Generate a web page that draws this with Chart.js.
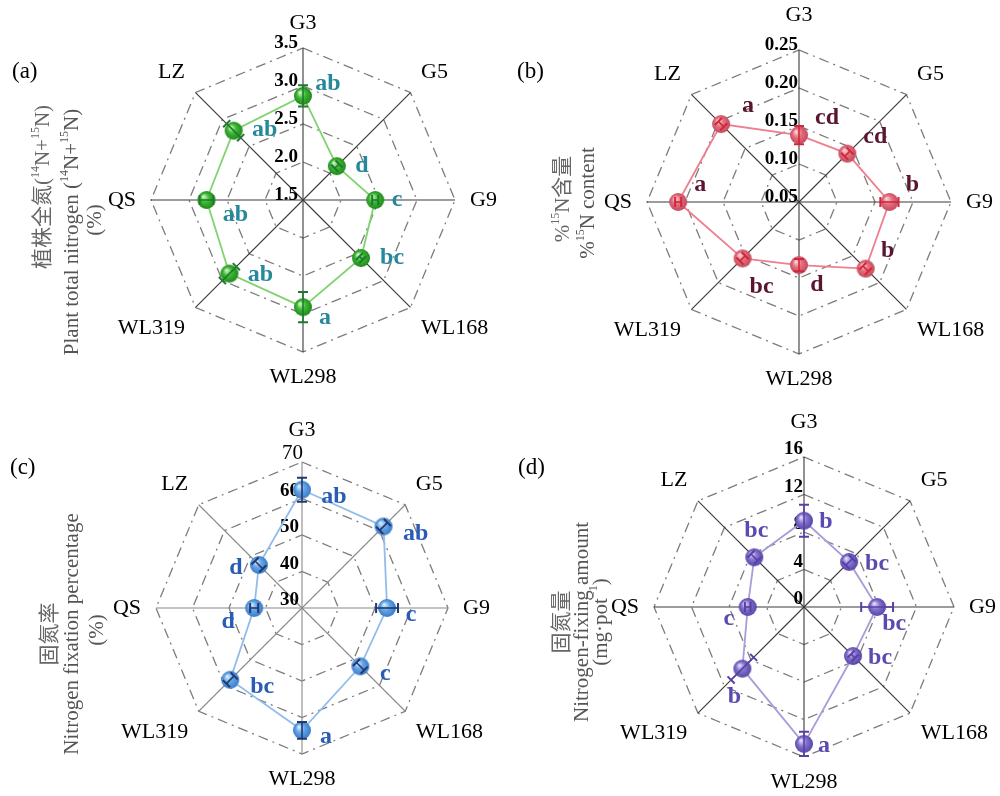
<!DOCTYPE html>
<html>
<head>
<meta charset="utf-8">
<script src="https://cdn.jsdelivr.net/npm/chart.js@4.4.1/dist/chart.umd.min.js"></script>
<style>
  html, body { margin: 0; padding: 0; background: #fff; width: 1000px; height: 796px; overflow: hidden; position: relative; }
  .panel { position: absolute; width: 500px; height: 398px; }
  .panel canvas { display: block; }
</style>
</head>
<body>
<div class="panel" style="left:0;top:0"><canvas id="chartA" width="500" height="398"></canvas></div>
<div class="panel" style="left:500px;top:0"><canvas id="chartB" width="500" height="398"></canvas></div>
<div class="panel" style="left:0;top:398px"><canvas id="chartC" width="500" height="398"></canvas></div>
<div class="panel" style="left:500px;top:398px"><canvas id="chartD" width="500" height="398"></canvas></div>
<script>
// Alfalfa genotypes, clockwise from the top
const genotypes = ['G3', 'G5', 'G9', 'WL168', 'WL298', 'WL319', 'QS', 'LZ'];

// (a) plant total nitrogen (14N+15N), %
const totalN      = [2.87, 2.13, 2.45, 2.58, 2.91, 2.87, 2.77, 2.79];
const totalNErr   = [0.14, 0.04, 0.04, 0.03, 0.20, 0.13, 0.09, 0.13];
const totalNSig   = ['ab', 'd', 'c', 'bc', 'a', 'ab', 'ab', 'ab'];
const totalNTicks = ['1.5', '2.0', '2.5', '3.0', '3.5'];

// (b) 15N content, %
const n15Content  = [0.138, 0.140, 0.169, 0.174, 0.133, 0.155, 0.209, 0.195];
const n15Err      = [0.012, 0.005, 0.012, 0.005, 0.008, 0.005, 0.004, 0.005];
const n15Sig      = ['cd', 'cd', 'b', 'b', 'd', 'bc', 'a', 'a'];
const n15Ticks    = ['0.05', '0.10', '0.15', '0.20', '0.25'];

// (c) nitrogen fixation percentage, %
const fixPct      = [62.4, 61.6, 53.3, 52.6, 63.5, 57.8, 43.1, 46.7];
const fixPctErr   = [3.3, 1.5, 3.0, 1.5, 2.3, 1.5, 1.1, 1.5];
const fixPctSig   = ['ab', 'ab', 'c', 'c', 'a', 'bc', 'd', 'd'];
const fixPctTicks = ['30', '40', '50', '60', '70'];

// (d) nitrogen-fixing amount, mg per pot
const fixAmt      = [9.2, 6.8, 7.8, 7.4, 14.6, 9.3, 6.0, 7.5];
const fixAmtErr   = [1.7, 0.5, 1.7, 0.3, 1.3, 1.7, 0.3, 0.5];
const fixAmtSig   = ['b', 'bc', 'bc', 'bc', 'a', 'b', 'c', 'bc'];
const fixAmtTicks = ['0', '4', '8', '12', '16'];

const SERIF = "'Liberation Serif', 'Times New Roman', 'Noto Sans CJK SC', serif";

// Shaded sphere used as point marker
function makeBall(base, light, dark, r) {
  const c = document.createElement('canvas');
  const s = Math.ceil(r * 2 + 2);
  c.width = c.height = s;
  const g = c.getContext('2d');
  const m = s / 2;
  const grd = g.createRadialGradient(m - r * 0.35, m - r * 0.4, r * 0.05, m, m, r);
  grd.addColorStop(0, light);
  grd.addColorStop(0.45, base);
  grd.addColorStop(1, dark);
  g.fillStyle = grd;
  g.beginPath();
  g.arc(m, m, r, 0, Math.PI * 2);
  g.fill();
  return c;
}

// Text with superscript runs, centred on the origin of the current transform
function drawRich(ctx, segs, size, color) {
  const big = size + 'px ' + SERIF;
  const small = Math.round(size * 0.58) + 'px ' + SERIF;
  let total = 0;
  segs.forEach(s => { ctx.font = s.sup ? small : big; total += ctx.measureText(s.t).width; });
  let x = -total / 2;
  ctx.fillStyle = color;
  ctx.textBaseline = 'middle';
  ctx.textAlign = 'left';
  segs.forEach(s => {
    ctx.font = s.sup ? small : big;
    ctx.fillText(s.t, x, s.sup ? -size * 0.33 : 0);
    x += ctx.measureText(s.t).width;
  });
}

function decorations(cfg) {
  return {
    id: 'decor' + cfg.tag,
    beforeDatasetsDraw(chart) {
      const s = chart.scales.r, ctx = chart.ctx;
      ctx.save();
      ctx.fillStyle = '#000';
      ctx.textAlign = 'right';
      ctx.textBaseline = 'alphabetic';
      cfg.ticks.forEach((t, i) => {
        const d = s.getDistanceFromCenterForValue(Number(t));
        const isTopPlain = cfg.plainTop && i === cfg.ticks.length - 1;
        ctx.font = isTopPlain ? '21px ' + SERIF : 'bold 19px ' + SERIF;
        ctx.fillText(t, s.xCenter + cfg.tickDx + (isTopPlain ? 4 : 0), s.yCenter - d + cfg.tickDy);
      });
      ctx.restore();
    },
    afterDatasetsDraw(chart) {
      const s = chart.scales.r, ctx = chart.ctx;
      const meta = chart.getDatasetMeta(0);
      ctx.save();
      // error bars along each spoke
      ctx.strokeStyle = cfg.errColor;
      cfg.values.forEach((v, i) => {
        const e = cfg.err[i];
        const p1 = s.getPointPositionForValue(i, v - e);
        const p2 = s.getPointPositionForValue(i, v + e);
        const a = s.getIndexAngle(i) - Math.PI / 2;
        const px = -Math.sin(a) * 5, py = Math.cos(a) * 5;
        ctx.lineWidth = 1.6;
        ctx.beginPath();
        ctx.moveTo(p1.x, p1.y); ctx.lineTo(p2.x, p2.y);
        ctx.stroke();
        ctx.lineWidth = 2;
        ctx.beginPath();
        ctx.moveTo(p1.x - px, p1.y - py); ctx.lineTo(p1.x + px, p1.y + py);
        ctx.moveTo(p2.x - px, p2.y - py); ctx.lineTo(p2.x + px, p2.y + py);
        ctx.stroke();
      });
      // significance letters
      ctx.font = 'bold 24px ' + SERIF;
      ctx.fillStyle = cfg.sigColor;
      ctx.textAlign = 'center';
      ctx.textBaseline = 'middle';
      cfg.sig.forEach((t, i) => {
        const el = meta.data[i];
        const o = cfg.sigOffsets[i];
        ctx.fillText(t, el.x + o[0], el.y + o[1]);
      });
      ctx.restore();
    },
    afterDraw(chart) {
      const s = chart.scales.r, ctx = chart.ctx;
      ctx.save();
      // spoke names
      ctx.font = '22px ' + SERIF;
      ctx.fillStyle = '#000';
      ctx.textBaseline = 'middle';
      genotypes.forEach((name, i) => {
        const gap = i === 0 ? cfg.topGap : 15;
        const p = s.getPointPosition(i, s.drawingArea + gap);
        const ang = s.getIndexAngle(i);
        const sx = Math.sin(ang), cy = Math.cos(ang);
        ctx.textAlign = Math.abs(sx) < 0.01 ? 'center' : (sx > 0 ? 'left' : 'right');
        let y = p.y;
        if (cy > 0.01) y -= 10; else if (cy < -0.01) y += 10;
        ctx.fillText(name, p.x, y);
      });
      // panel tag
      ctx.textAlign = 'left';
      ctx.font = '23px ' + SERIF;
      ctx.fillText(cfg.panel[0], cfg.panel[1], cfg.panel[2]);
      // rotated axis title
      cfg.title.forEach(line => {
        ctx.save();
        ctx.translate(line.x, line.y);
        ctx.rotate(-Math.PI / 2);
        drawRich(ctx, line.segs, 21, line.color);
        ctx.restore();
      });
      ctx.restore();
    }
  };
}

function radar(id, cfg) {
  return new Chart(document.getElementById(id), {
    type: 'radar',
    data: {
      labels: genotypes,
      datasets: [{
        data: cfg.values,
        borderColor: cfg.lineColor,
        borderWidth: 1.8,
        fill: false,
        tension: 0,
        pointStyle: cfg.ball,
        pointRadius: 9,
        pointHoverRadius: 9
      }]
    },
    options: {
      responsive: false,
      animation: false,
      events: [],
      layout: { padding: cfg.pad },
      plugins: { legend: { display: false }, tooltip: { enabled: false } },
      scales: {
        r: {
          min: cfg.min,
          max: cfg.max,
          ticks: { display: false, stepSize: cfg.step },
          pointLabels: { display: false },
          grid: { color: '#7c7c7c', lineWidth: 1.3 },
          border: { dash: [10, 5, 2, 5] },
          angleLines: { color: cfg.spokeColor, lineWidth: 1.1 }
        }
      }
    },
    plugins: [decorations(cfg)]
  });
}

radar('chartA', {
  tag: 'A', values: totalN, err: totalNErr, sig: totalNSig, ticks: totalNTicks,
  min: 1.5, max: 3.5, step: 0.5,
  pad: { left: 151, right: 45, top: 48, bottom: 46 },
  lineColor: '#80d470', errColor: '#1e7b2e', sigColor: '#25899a', spokeColor: '#3a3a3a',
  ball: makeBall('#3dbb35', '#d2f7c8', '#23861f', 9),
  sigOffsets: [[25, -12], [25, 0], [22, 0], [31, 0], [22, 11], [31, 1], [29, 15], [31, -1]],
  tickDx: -5, tickDy: 0, topGap: 15,
  panel: ['(a)', 12, 72],
  title: [
    { x: 43, y: 187, color: '#666', segs: [{ t: '植株全氮(' }, { t: '14', sup: true }, { t: 'N+' }, { t: '15', sup: true }, { t: 'N)' }] },
    { x: 72, y: 232, color: '#555', segs: [{ t: 'Plant total nitrogen (' }, { t: '14', sup: true }, { t: 'N+' }, { t: '15', sup: true }, { t: 'N)' }] },
    { x: 95, y: 220, color: '#555', segs: [{ t: '(%)' }] }
  ]
});

radar('chartB', {
  tag: 'B', values: n15Content, err: n15Err, sig: n15Sig, ticks: n15Ticks,
  min: 0.05, max: 0.25, step: 0.05,
  pad: { left: 147, right: 49, top: 50, bottom: 44 },
  lineColor: '#ef7f8e', errColor: '#d0283a', sigColor: '#5a1630', spokeColor: '#3a3a3a',
  ball: makeBall('#e6707f', '#fbd6dc', '#c24a5e', 9),
  sigOffsets: [[28, -17], [28, -17], [23, -17], [22, -18], [18, 20], [19, 28], [22, -17], [27, -18]],
  tickDx: -1, tickDy: 0, topGap: 25,
  panel: ['(b)', 17, 72],
  title: [
    { x: 63, y: 199, color: '#666', segs: [{ t: '%' }, { t: '15', sup: true }, { t: 'N含量' }] },
    { x: 88, y: 203, color: '#555', segs: [{ t: '%' }, { t: '15', sup: true }, { t: 'N content' }] }
  ]
});

radar('chartC', {
  tag: 'C', values: fixPct, err: fixPctErr, sig: fixPctSig, ticks: fixPctTicks,
  min: 30, max: 70, step: 10, plainTop: true,
  pad: { left: 156, right: 52, top: 64, bottom: 42 },
  lineColor: '#92bdea', errColor: '#23386e', sigColor: '#2a5cb5', spokeColor: '#8a8a8a',
  ball: makeBall('#66a6e8', '#def0fd', '#3a7bc6', 9),
  sigOffsets: [[32, 7], [32, 7], [24, 7], [25, 7], [24, 7], [32, 7], [-26, 14], [-23, 3]],
  tickDx: -3, tickDy: -3, topGap: 22,
  panel: ['(c)', 10, 70],
  title: [
    { x: 50, y: 236, color: '#666', segs: [{ t: '固氮率' }] },
    { x: 72, y: 236, color: '#555', segs: [{ t: 'Nitrogen fixation percentage' }] },
    { x: 97, y: 232, color: '#555', segs: [{ t: '(%)' }] }
  ]
});

radar('chartD', {
  tag: 'D', values: fixAmt, err: fixAmtErr, sig: fixAmtSig, ticks: fixAmtTicks,
  min: 0, max: 16, step: 4,
  pad: { left: 153, right: 44, top: 59, bottom: 39 },
  lineColor: '#aa9bda', errColor: '#5b3ea6', sigColor: '#5a4bb0', spokeColor: '#3a3a3a',
  ball: makeBall('#8675cf', '#e4defa', '#5646a6', 9),
  sigOffsets: [[22, 1], [28, 2], [17, 17], [27, 2], [20, 2], [-8, 28], [-19, 12], [2, -26]],
  tickDx: -1, tickDy: -3, topGap: 25,
  panel: ['(d)', 18, 70],
  title: [
    { x: 62, y: 224, color: '#666', segs: [{ t: '固氮量' }] },
    { x: 82, y: 224, color: '#555', segs: [{ t: 'Nitrogen-fixing amount' }] },
    { x: 101, y: 224, color: '#555', segs: [{ t: '(mg·pot' }, { t: '−1', sup: true }, { t: ')' }] }
  ]
});
</script>
</body>
</html>
